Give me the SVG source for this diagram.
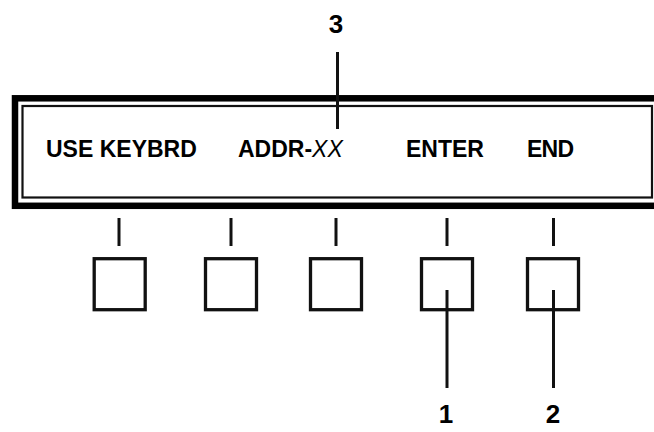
<svg xmlns="http://www.w3.org/2000/svg" width="654" height="432" viewBox="0 0 654 432">
<style>
.lbl{font-family:"Liberation Sans",Arial,sans-serif;font-weight:bold;font-size:23px;fill:#000}
.num{font-family:"Liberation Sans",Arial,sans-serif;font-weight:bold;font-size:26px;fill:#000;text-anchor:middle}
.key{fill:none;stroke:#111;stroke-width:3.3}
.ln{stroke:#111;stroke-width:3;fill:none}
</style>
<rect width="654" height="432" fill="#fff"/>
<g id="display">
<rect x="15" y="98.3" width="700" height="107.5" fill="#fff" stroke="#000" stroke-width="6.5"/>
<rect x="22.5" y="106" width="629.5" height="91.5" fill="none" stroke="#111" stroke-width="2.2"/>
<text class="lbl" x="46" y="157">USE KEYBRD</text>
<text class="lbl" x="238" y="157">ADDR-<tspan font-style="italic" font-weight="normal">XX</tspan></text>
<text class="lbl" x="406" y="157">ENTER</text>
<text class="lbl" x="527" y="157" textLength="47">END</text>
</g>
<g id="key1"><rect class="key" x="94.2" y="258.7" width="51" height="51"/></g>
<g id="key2"><rect class="key" x="205.5" y="258.7" width="51" height="51"/></g>
<g id="key3"><rect class="key" x="310.5" y="258.7" width="51" height="51"/></g>
<g id="key4"><rect class="key" x="421.5" y="258.7" width="51" height="51"/></g>
<g id="key5"><rect class="key" x="527.5" y="258.7" width="51" height="51"/></g>
<g id="connectors">
<line class="ln" x1="119" y1="218" x2="119" y2="246"/>
<line class="ln" x1="231" y1="218" x2="231" y2="246"/>
<line class="ln" x1="336" y1="218" x2="336" y2="246"/>
<line class="ln" x1="447" y1="218" x2="447" y2="246"/>
<line class="ln" x1="553.5" y1="218" x2="553.5" y2="246"/>
<line class="ln" x1="337.5" y1="52" x2="337.5" y2="129"/>
<line class="ln" x1="447" y1="290" x2="447" y2="388"/>
<line class="ln" x1="553.5" y1="290" x2="553.5" y2="388"/>
</g>
<g id="callout3"><text class="num" x="336" y="33">3</text></g>
<g id="callout1"><text class="num" x="446" y="423">1</text></g>
<g id="callout2"><text class="num" x="553" y="423">2</text></g>
</svg>
